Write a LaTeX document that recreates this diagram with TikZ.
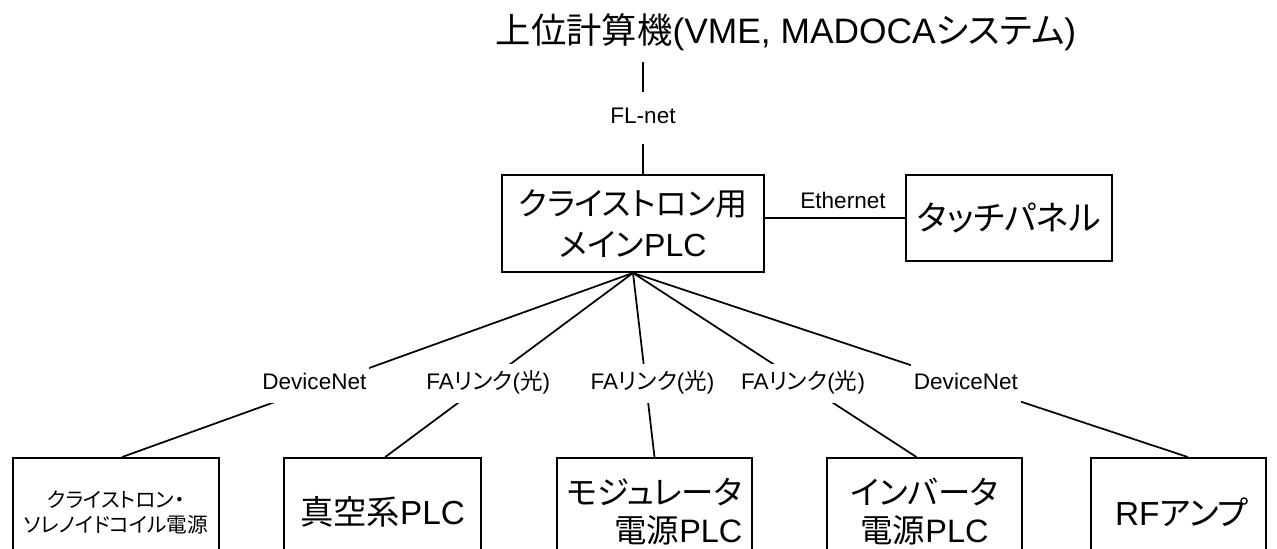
\documentclass[tikz,border=0pt]{standalone}
\usepackage{fontspec}
\setmainfont{Liberation Sans}
\newfontfamily\jp[RawFeature=+palt]{Noto Sans CJK JP}
\begin{document}
\begin{tikzpicture}[x=0.75pt,y=-0.75pt,
  box/.style={draw, line width=1.4pt, inner sep=0pt, align=center},
  bbox/.style={box, minimum height=81pt, font=\fontsize{24.3pt}{28.5pt}\selectfont},
  lbl/.style={fill=white, font=\fontsize{16.9pt}{20pt}\selectfont, text height=12pt, text depth=3.5pt, inner xsep=2pt, inner ysep=7pt},
  conn/.style={line width=1.3pt}]
\useasboundingbox (0,0) rectangle (1277,549);
\clip (0,0) rectangle (1277,549);
\fill[white] (0,0) rectangle (1277,549);

\node[font=\fontsize{26.5pt}{30pt}\selectfont] (title) at (786,32) {{\jp 上位計算機}(VME, MADOCA{\jp システム})};

\node[box, minimum width=196.5pt, minimum height=72.75pt, font=\fontsize{24pt}{30.75pt}\selectfont] (main) at (633,223.5) {{\jp クライストロン用}\\{\jp メイン}PLC};

\node[box, minimum width=154.5pt, minimum height=64.5pt, font=\fontsize{25.5pt}{27pt}\selectfont] (touch) at (1009,218) {\jp タッチパネル};

\coordinate (tl) at (643,62);
\draw[conn] (tl) -- node[lbl, inner ysep=12pt]{FL-net} (tl |- main.north);

\draw[conn] (main.east |- touch.west) -- node[above=4pt, font=\fontsize{16.9pt}{20pt}\selectfont, inner sep=2pt, xshift=6pt]{Ethernet} (touch.west);

\node[bbox, minimum width=154.5pt, font=\fontsize{15.5pt}{18.75pt}\selectfont] (b1) at (116,512) {{\jp クライストロン・}\\{\jp ソレノイドコイル電源}};
\node[bbox, minimum width=147.75pt, font=\fontsize{25pt}{28.5pt}\selectfont] (b2) at (382.5,512) {{\jp 真空系}PLC};
\node[bbox, minimum width=146.25pt, align=right] (b3) at (654.5,512) {{\jp モジュレータ}\\{\jp 電源}PLC};
\node[bbox, minimum width=146.25pt] (b4) at (924.5,512) {{\jp インバータ}\\{\jp 電源}PLC};
\node[bbox, minimum width=131.25pt, text width=131.25pt, align=center, font=\fontsize{25pt}{28.5pt}\selectfont] (b5) at (1178.5,512) {\hspace*{5pt}RF{\jp アンプ}};

\draw[conn] (main.south) -- node[lbl, pos=0.6, xshift=-9pt]{DeviceNet} ([xshift=4.5pt]b1.north);
\draw[conn] (main.south) -- node[lbl, pos=0.6, xshift=3pt]{FA{\jp リンク}({\jp 光})} ([xshift=2pt]b2.north);
\draw[conn] (main.south) -- node[lbl, pos=0.6, xshift=5pt]{FA{\jp リンク}({\jp 光})} (b3.north);
\draw[conn] (main.south) -- node[lbl, pos=0.6]{FA{\jp リンク}({\jp 光})} ([xshift=-6pt]b4.north);
\draw[conn] (main.south) -- node[lbl, pos=0.6]{DeviceNet} ([xshift=7pt]b5.north);
\end{tikzpicture}
\end{document}
